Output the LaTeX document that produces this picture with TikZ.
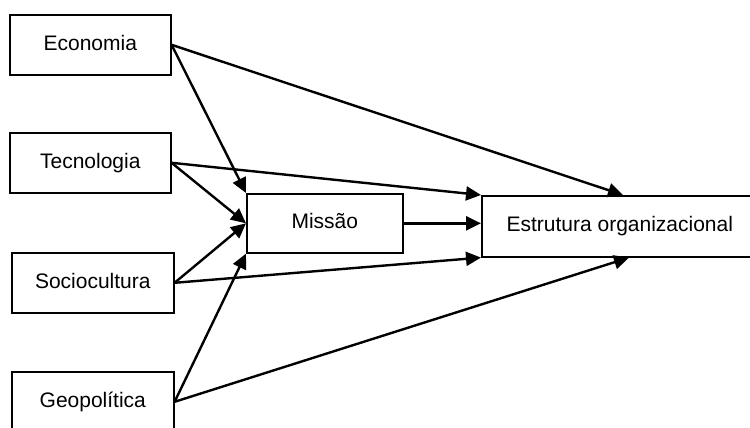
\documentclass[tikz,border=0pt]{standalone}
\usepackage{fontspec}
\setmainfont{Liberation Sans}
\usetikzlibrary{arrows.meta,calc}
\begin{document}
\begin{tikzpicture}[x=1pt,y=-1pt,
  box/.style={draw, line width=1.6pt, inner sep=0pt, anchor=north west,
    font=\fontsize{21}{25}\selectfont, text height=15pt, text depth=4.5pt},
  link/.style={line width=2.4pt, -{Triangle[length=15pt,width=14pt]}}]
\useasboundingbox (0,0) rectangle (750,428);
\clip (0,0) rectangle (750,428);

% external factors
\node[box, minimum width=161pt, minimum height=60pt] (eco) at (9,14)  {Economia};
\node[box, minimum width=161pt, minimum height=60pt] (tec) at (9,132) {Tecnologia};
\node[box, minimum width=162pt, minimum height=60pt] (soc) at (11,252) {Sociocultura};
\node[box, minimum width=162pt, minimum height=60pt] (geo) at (11,371) {Geopolítica};

% mission and structure
\node[box, minimum width=156pt, minimum height=59pt] (mis) at (246,193) {Missão};
\node[box, minimum width=276pt, minimum height=61pt] (est) at (481,195) {Estrutura organizacional};

\coordinate (estTop) at ($(est.north west)+(142,0)$);
\coordinate (estBot) at ($(est.south west)+(148,0)$);

% influences
\draw[link] (eco.east) -- (mis.north west);
\draw[link] (eco.east) -- (estTop);
\draw[link] (tec.east) -- (mis.west);
\draw[link] (tec.east) -- (est.north west);
\draw[link] (soc.east) -- (mis.west);
\draw[link] (soc.east) -- (est.south west);
\draw[link] (geo.east) -- (mis.south west);
\draw[link] (geo.east) -- (estBot);
\draw[link] (mis.east) -- (mis.east -| est.west);
\end{tikzpicture}
\end{document}
